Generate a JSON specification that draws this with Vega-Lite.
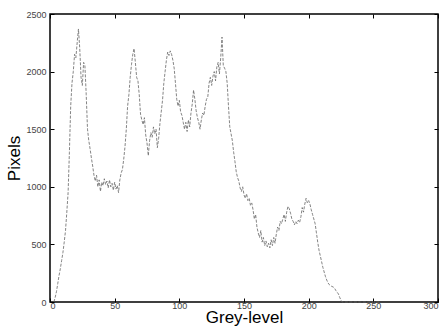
{
  "$schema": "https://vega.github.io/schema/vega-lite/v6.json",
  "width": 388,
  "height": 288,
  "autosize": {"type": "none"},
  "padding": {"left": 50, "top": 14, "right": 4, "bottom": 25},
  "background": "white",
  "config": {
    "view": {"stroke": "black", "strokeWidth": 1.5},
    "font": "Liberation Sans",
    "axis": {
      "grid": false,
      "domain": false,
      "tickColor": "black",
      "tickWidth": 1,
      "tickSize": -4,
      "format": "d",
      "labelFont": "Liberation Sans",
      "labelFontSize": 9,
      "labelColor": "#444",
      "titleFont": "Liberation Sans",
      "titleFontSize": 17,
      "titleFontWeight": "normal",
      "titleColor": "black"
    }
  },
  "data": {"values": [
    {"g":3,"p":0},{"g":4,"p":40},{"g":5,"p":90},{"g":6,"p":160},{"g":7,"p":230},{"g":8,"p":290},{"g":9,"p":360},{"g":10,"p":430},
    {"g":11,"p":520},{"g":12,"p":620},{"g":13,"p":780},{"g":14,"p":950},{"g":15,"p":1300},{"g":16,"p":1700},{"g":17,"p":1900},{"g":18,"p":2000},
    {"g":19,"p":2150},{"g":20,"p":2120},{"g":21,"p":2250},{"g":22,"p":2370},{"g":23,"p":2200},{"g":24,"p":1950},{"g":25,"p":1880},{"g":26,"p":2080},
    {"g":27,"p":2050},{"g":28,"p":1800},{"g":29,"p":1500},{"g":30,"p":1400},{"g":31,"p":1330},{"g":32,"p":1250},{"g":33,"p":1180},{"g":34,"p":1100},
    {"g":35,"p":1050},{"g":36,"p":1100},{"g":37,"p":1000},{"g":38,"p":1060},{"g":39,"p":960},{"g":40,"p":1040},{"g":41,"p":1010},{"g":42,"p":1070},
    {"g":43,"p":1020},{"g":44,"p":1050},{"g":45,"p":990},{"g":46,"p":1060},{"g":47,"p":1000},{"g":48,"p":1030},{"g":49,"p":970},{"g":50,"p":1040},
    {"g":51,"p":980},{"g":52,"p":1010},{"g":53,"p":950},{"g":54,"p":1060},{"g":55,"p":1120},{"g":56,"p":1150},{"g":57,"p":1240},{"g":58,"p":1350},
    {"g":59,"p":1500},{"g":60,"p":1700},{"g":61,"p":1800},{"g":62,"p":1950},{"g":63,"p":2060},{"g":64,"p":2150},{"g":65,"p":2200},{"g":66,"p":2080},
    {"g":67,"p":1950},{"g":68,"p":1920},{"g":69,"p":1800},{"g":70,"p":1630},{"g":71,"p":1580},{"g":72,"p":1540},{"g":73,"p":1600},{"g":74,"p":1450},
    {"g":75,"p":1380},{"g":76,"p":1270},{"g":77,"p":1400},{"g":78,"p":1470},{"g":79,"p":1430},{"g":80,"p":1520},{"g":81,"p":1460},{"g":82,"p":1500},
    {"g":83,"p":1340},{"g":84,"p":1420},{"g":85,"p":1550},{"g":86,"p":1650},{"g":87,"p":1750},{"g":88,"p":1900},{"g":89,"p":2000},{"g":90,"p":2100},
    {"g":91,"p":2170},{"g":92,"p":2140},{"g":93,"p":2180},{"g":94,"p":2150},{"g":95,"p":2100},{"g":96,"p":2030},{"g":97,"p":1900},{"g":98,"p":1760},
    {"g":99,"p":1700},{"g":100,"p":1750},{"g":101,"p":1650},{"g":102,"p":1620},{"g":103,"p":1560},{"g":104,"p":1500},{"g":105,"p":1560},{"g":106,"p":1480},
    {"g":107,"p":1580},{"g":108,"p":1520},{"g":109,"p":1640},{"g":110,"p":1720},{"g":111,"p":1840},{"g":112,"p":1760},{"g":113,"p":1660},{"g":114,"p":1600},
    {"g":115,"p":1560},{"g":116,"p":1500},{"g":117,"p":1580},{"g":118,"p":1640},{"g":119,"p":1620},{"g":120,"p":1700},{"g":121,"p":1760},{"g":122,"p":1780},
    {"g":123,"p":1900},{"g":124,"p":1950},{"g":125,"p":1880},{"g":126,"p":1960},{"g":127,"p":2000},{"g":128,"p":1920},{"g":129,"p":2040},{"g":130,"p":2080},
    {"g":131,"p":1980},{"g":132,"p":2120},{"g":133,"p":2300},{"g":134,"p":2050},{"g":135,"p":2030},{"g":136,"p":2000},{"g":137,"p":1900},{"g":138,"p":1700},
    {"g":139,"p":1520},{"g":140,"p":1460},{"g":141,"p":1400},{"g":142,"p":1300},{"g":143,"p":1220},{"g":144,"p":1130},{"g":145,"p":1080},{"g":146,"p":1050},
    {"g":147,"p":990},{"g":148,"p":960},{"g":149,"p":1000},{"g":150,"p":930},{"g":151,"p":900},{"g":152,"p":940},{"g":153,"p":880},{"g":154,"p":900},
    {"g":155,"p":840},{"g":156,"p":860},{"g":157,"p":800},{"g":158,"p":720},{"g":159,"p":760},{"g":160,"p":650},{"g":161,"p":600},{"g":162,"p":560},
    {"g":163,"p":620},{"g":164,"p":520},{"g":165,"p":560},{"g":166,"p":490},{"g":167,"p":530},{"g":168,"p":480},{"g":169,"p":510},{"g":170,"p":470},
    {"g":171,"p":540},{"g":172,"p":490},{"g":173,"p":560},{"g":174,"p":510},{"g":175,"p":590},{"g":176,"p":650},{"g":177,"p":620},{"g":178,"p":700},
    {"g":179,"p":680},{"g":180,"p":720},{"g":181,"p":760},{"g":182,"p":700},{"g":183,"p":780},{"g":184,"p":830},{"g":185,"p":810},{"g":186,"p":770},
    {"g":187,"p":720},{"g":188,"p":700},{"g":189,"p":670},{"g":190,"p":700},{"g":191,"p":680},{"g":192,"p":710},{"g":193,"p":690},{"g":194,"p":740},
    {"g":195,"p":820},{"g":196,"p":780},{"g":197,"p":850},{"g":198,"p":900},{"g":199,"p":860},{"g":200,"p":880},{"g":201,"p":850},{"g":202,"p":800},
    {"g":203,"p":760},{"g":204,"p":720},{"g":205,"p":680},{"g":206,"p":600},{"g":207,"p":520},{"g":208,"p":450},{"g":209,"p":400},{"g":210,"p":350},
    {"g":211,"p":300},{"g":212,"p":260},{"g":213,"p":220},{"g":214,"p":190},{"g":215,"p":165},{"g":216,"p":150},{"g":217,"p":140},{"g":218,"p":135},
    {"g":219,"p":130},{"g":220,"p":120},{"g":221,"p":100},{"g":222,"p":85},{"g":223,"p":70},{"g":224,"p":40},{"g":225,"p":15},{"g":226,"p":0},
    {"g":240,"p":0},{"g":255,"p":0}
  ]},
  "layer": [
    {
      "mark": {"type": "line", "color": "#666", "strokeWidth": 0.8, "strokeDash": [3, 1.5]},
      "encoding": {
        "x": {"field": "g", "type": "quantitative", "scale": {"domain": [0, 300], "nice": false},
              "axis": {"title": "Grey-level", "values": [0,50,100,150,200,250,300], "labelPadding": 3, "titlePadding": -1}},
        "y": {"field": "p", "type": "quantitative", "scale": {"domain": [0, 2500], "nice": false},
              "axis": {"title": "Pixels", "values": [0,500,1000,1500,2000,2500], "labelPadding": 8, "titlePadding": 2}}
      }
    },
    {
      "mark": {"type": "line", "opacity": 0},
      "encoding": {
        "x": {"field": "g", "type": "quantitative", "scale": {"domain": [0, 300], "nice": false},
              "axis": {"orient": "top", "title": null, "labels": false, "values": [0,50,100,150,200,250,300]}},
        "y": {"field": "p", "type": "quantitative", "scale": {"domain": [0, 2500], "nice": false},
              "axis": {"orient": "right", "title": null, "labels": false, "values": [0,500,1000,1500,2000,2500]}}
      }
    }
  ],
  "resolve": {"axis": {"x": "independent", "y": "independent"}}
}
